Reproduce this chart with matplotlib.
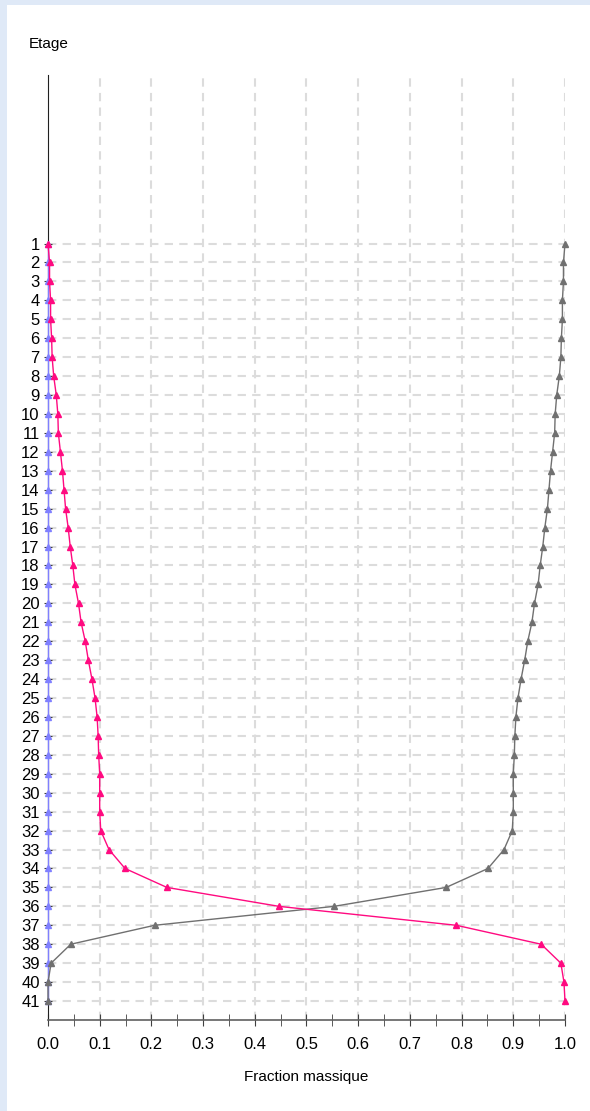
import numpy as np
import matplotlib.pyplot as plt

# Stage numbers (Etage)
stages = list(range(1, 42))

# Mass fractions
pink = [0.000, 0.003, 0.003, 0.005, 0.005, 0.007, 0.008, 0.011, 0.016, 0.019,
        0.020, 0.024, 0.028, 0.031, 0.034, 0.039, 0.043, 0.048, 0.052, 0.059,
        0.064, 0.072, 0.078, 0.085, 0.091, 0.095, 0.097, 0.098, 0.100, 0.100,
        0.100, 0.102, 0.118, 0.149, 0.230, 0.447, 0.790, 0.954, 0.992, 0.998,
        1.000]
gray = [1.000, 0.997, 0.997, 0.995, 0.995, 0.993, 0.992, 0.989, 0.984, 0.981,
        0.980, 0.976, 0.972, 0.969, 0.966, 0.961, 0.957, 0.952, 0.948, 0.941,
        0.936, 0.928, 0.922, 0.915, 0.909, 0.905, 0.903, 0.902, 0.900, 0.900,
        0.900, 0.898, 0.882, 0.851, 0.770, 0.553, 0.206, 0.044, 0.006, 0.000,
        0.000]
blue = [0.0] * 41

xticks = np.arange(0, 1.01, 0.1)

fig = plt.figure(figsize=(5.9, 11.11), dpi=100)
fig.patch.set_facecolor('#dfe9f7')
# white panel behind everything
bg = fig.add_axes([7 / 590, 0, 1, 1 - 5 / 1111], zorder=0)
bg.axis('off')
bg.add_patch(plt.Rectangle((0, 0), 1, 1, transform=bg.transAxes,
                           facecolor='white', edgecolor='none'))

ax = fig.add_axes([48 / 590, 91 / 1111, 517 / 590, 945 / 1111], zorder=2)
ax.set_facecolor('none')

ax.plot(blue, stages, color='#8080ff', marker='^', markersize=5, lw=1, zorder=3,
        clip_on=False)
ax.plot(gray, stages, color='#707070', marker='^', markersize=5, lw=1, zorder=4,
        clip_on=False)
ax.plot(pink, stages, color='#ff0a80', marker='^', markersize=5, lw=1, zorder=5,
        clip_on=False)

ax.set_xlim(0, 1)
ax.set_ylim(42.0, -7.9)
ax.set_xticks(xticks)
ax.set_xticklabels([f'{v:.1f}' for v in xticks])
ax.set_xticks(np.arange(0.05, 1, 0.1), minor=True)
ax.set_yticks(stages)
ax.set_yticklabels([str(s) for s in stages])

for v in xticks[1:]:
    ax.axvline(v, color='#dcdcdc', lw=1.5, ls=(0, (4, 3)), zorder=1)
for s in stages:
    ax.axhline(s, color='#dcdcdc', lw=1.5, ls=(0, (4, 3)), zorder=1)

for side in ['top', 'right']:
    ax.spines[side].set_visible(False)
ax.spines['left'].set_color('#202020')
ax.spines['bottom'].set_color('#606060')
ax.spines['bottom'].set_linewidth(1.2)

ax.tick_params(axis='x', which='both', direction='inout', length=8, colors='#404040',
               labelcolor='black', labelsize=12, pad=8)
ax.tick_params(axis='x', which='minor', length=8)
ax.tick_params(axis='y', direction='inout', length=6, colors='#404040',
               labelcolor='black', labelsize=12, pad=3)
for lab in ax.get_xticklabels() + ax.get_yticklabels():
    lab.set_fontfamily('Liberation Sans')

fig.text(29 / 590, 1 - 44 / 1111, 'Etage', fontsize=11, family='Liberation Sans',
         va='center', ha='left')
fig.text(306 / 590, 1 - 1077 / 1111, 'Fraction massique', fontsize=11,
         family='Liberation Sans', va='center', ha='center')

fig.savefig('out.png', dpi=100, facecolor=fig.get_facecolor())
